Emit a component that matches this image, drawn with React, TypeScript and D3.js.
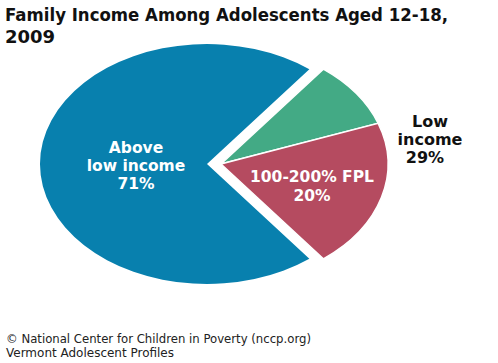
import React from "react";
import * as d3 from "d3";

// slice order goes clockwise from the top of the green (<100% FPL) wedge
const categories = ["Below 100% FPL", "100-200% FPL", "Above low income"];
const values = [9, 20, 71];
const colors = ["#43aa85", "#b54b60", "#0880ae"];
const titleLines = ["Family Income Among Adolescents Aged 12-18,", "2009"];
const footerLines = ["© National Center for Children in Poverty (nccp.org)", "Vermont Adolescent Profiles"];
const lowIncomeLabel = ["Low", "income", "29%"];
const aboveLabel = ["Above", "low income", "71%"];
const fplLabel = ["100-200% FPL", "20%"];

export default function App() {
    const width = 498;
    const height = 363;
    const cx = 214;
    const cy = 164;
    const rx = 167;
    const ry = 120;
    const explode = 7; // px, each half pulled apart horizontally

    const lowShare = (values[0] + values[1]) / d3.sum(values);
    const start = Math.PI / 2 - lowShare * Math.PI;

    const pie = d3
        .pie<number>()
        .sort(null)
        .value((d) => d)
        .startAngle(start)
        .endAngle(start + 2 * Math.PI);
    const arcs = pie(values);
    const arc = d3.arc<d3.PieArcDatum<number>>().innerRadius(0).outerRadius(1);

    const font = "'DejaVu Sans', Verdana, sans-serif";

    return (
        <div style={{ position: "absolute", left: 0, top: 0 }}>
            <svg width={width} height={height} style={{ display: "block", background: "#fff" }}>
                {titleLines.map((t, i) => (
                    <text
                        key={t}
                        x={5}
                        y={21 + i * 22}
                        fontFamily={font}
                        fontWeight="bold"
                        fontSize={18}
                        fill="#111"
                        textLength={i === 0 ? 443 : undefined}
                        lengthAdjust="spacingAndGlyphs"
                    >
                        {t}
                    </text>
                ))}

                {arcs.map((a, i) => {
                    const dx = i === 2 ? cx - explode : cx + explode;
                    return (
                        <path
                            key={categories[i]}
                            d={arc(a) || ""}
                            transform={`translate(${dx},${cy}) scale(${rx},${ry})`}
                            fill={colors[i]}
                            stroke={i === 2 ? "none" : "#fff"}
                            strokeWidth={1.5}
                            vectorEffect="non-scaling-stroke"
                        />
                    );
                })}

                {aboveLabel.map((t, i) => (
                    <text
                        key={t}
                        x={136}
                        y={153 + i * 18}
                        textAnchor="middle"
                        fontFamily={font}
                        fontWeight="bold"
                        fontSize={15.5}
                        fill="#fff"
                    >
                        {t}
                    </text>
                ))}

                {fplLabel.map((t, i) => (
                    <text
                        key={t}
                        x={312}
                        y={182 + i * 19}
                        textAnchor="middle"
                        fontFamily={font}
                        fontWeight="bold"
                        fontSize={15.5}
                        fill="#fff"
                    >
                        {t}
                    </text>
                ))}

                {lowIncomeLabel.map((t, i) => (
                    <text
                        key={t}
                        x={i === 2 ? 425 : 430}
                        y={127 + i * 18}
                        textAnchor="middle"
                        fontFamily={font}
                        fontWeight="bold"
                        fontSize={16}
                        fill="#111"
                    >
                        {t}
                    </text>
                ))}

                {footerLines.map((t, i) => (
                    <text
                        key={t}
                        x={6}
                        y={343 + i * 14}
                        fontFamily={font}
                        fontSize={12}
                        fill="#222"
                        textLength={i === 0 ? 305 : 168}
                        lengthAdjust="spacingAndGlyphs"
                    >
                        {t}
                    </text>
                ))}
            </svg>
        </div>
    );
}
